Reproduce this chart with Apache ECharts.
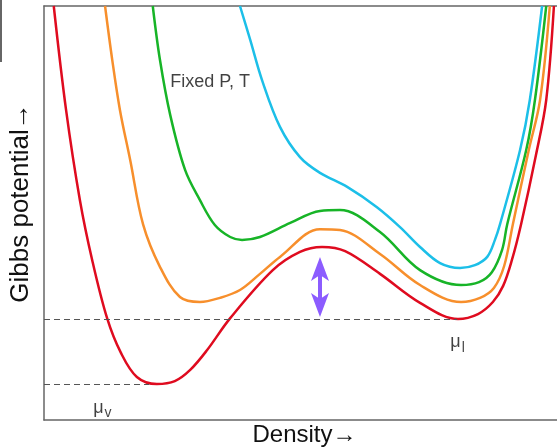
<html>
<head>
<meta charset="utf-8"/>
<title>Gibbs potential vs density</title>
<script src="https://cdn.jsdelivr.net/npm/echarts@6/dist/echarts.min.js"></script>
<style>
  html, body { margin: 0; padding: 0; background: #fff; }
  #main { width: 557px; height: 448px; }
</style>
</head>
<body>
<div id="main"></div>
<script type="text/javascript">
    // curves, [density, gibbs] in arbitrary units (0..100)
    var red = [[1.9,100],[4.3,74.9],[7.0,53.1],[9.4,38.6],[12.3,24.6],[15.0,16.2],[18.1,10.4],[22.0,8.7],
        [25.5,9.4],[28.5,12.1],[31.8,16.9],[36.3,24.6],[44.6,36.2],[49.9,40.6],[54.2,41.8],[58.7,40.8],
        [65.5,35.3],[73.3,28.3],[80.7,24.4],[84.6,25.6],[87.5,28.5],[89.5,32.4],[91.2,38.6],[93.0,47.3],
        [95.9,64.0],[97.9,77.3],[99.4,100]];
    var orange = [[11.9,100],[13.3,87.0],[14.8,74.9],[16.8,62.8],[19.3,47.3],[22.6,37.0],[26.5,29.7],
        [30.4,28.5],[34.3,29.5],[38.2,31.4],[42.1,35.3],[46.0,39.4],[53.8,46.1],[57.7,45.9],[65.5,40.1],
        [73.3,32.6],[81.3,28.5],[85.0,29.5],[87.7,31.9],[89.7,37.2],[91.4,47.3],[94.5,65.2],[96.7,77.3],
        [98.6,100]];
    var green = [[21.2,100],[22.6,87.0],[24.6,73.7],[27.5,60.4],[30.4,53.1],[33.3,47.1],[36.3,44.2],
        [38.6,43.5],[42.1,44.2],[48.0,47.6],[53.8,50.5],[57.7,50.7],[65.5,45.4],[73.3,36.2],[81.3,32.6],
        [84.8,33.3],[87.3,35.7],[89.3,41.1],[90.3,47.3],[94.0,65.2],[95.7,77.3],[97.9,100]];
    var cyan = [[38.2,100],[40.2,91.8],[42.5,82.1],[46.0,70.8],[49.9,63.5],[53.8,59.7],[59.1,56.3],
        [64.9,51.4],[69.4,46.6],[73.3,41.8],[77.2,37.9],[81.1,36.7],[84.0,37.4],[86.4,39.4],[87.9,43.5],
        [88.9,47.3],[92.8,65.2],[94.7,77.3],[97.1,100]];

    // levels of the two minima of the red curve
    var muL = 24.4, muLEnd = 80.5;
    var muV = 8.7, muVEnd = 20.5;
    // barrier arrow: [x, top tip, bottom tip]
    var barrier = [[53.8, 39.4, 24.9]];
    // text labels
    var notes = [
        {value: [24.6, 81.6], label: 'Fixed P, T'},
        {value: [9.6, 3.0], label: '{m|μ}{s|v}'},
        {value: [79.2, 18.8], label: '{m|μ}{s|l}'}
    ];

    var font = '"Liberation Sans", Arial, Helvetica, sans-serif';
    var axisLine = {show: true, lineStyle: {color: '#666', width: 1.5}};

    function curve(data, color) {
        return {
            type: 'line',
            data: data,
            smooth: 0.35,
            symbol: 'none',
            silent: true,
            clip: true,
            lineStyle: {color: color, width: 2.5}
        };
    }

    var myChart = echarts.init(document.getElementById('main'));

    var dashed = {color: '#555', width: 1, type: [6, 4]};

    var series = [
        curve(cyan, '#1cbfe8'),
        curve(green, '#17b427'),
        curve(orange, '#f78f2c'),
        curve(red, '#df0b1f')
    ];
    series[3].markLine = {
        silent: true,
        symbol: ['none', 'none'],
        label: {show: false},
        lineStyle: dashed,
        data: [
            [{coord: [0, muL]}, {coord: [muLEnd, muL]}],
            [{coord: [0, muV]}, {coord: [muVEnd, muV]}]
        ]
    };

    // double headed arrow between the red barrier top and the liquid level
    series.push({
        type: 'custom',
        silent: true,
        data: barrier,
        encode: {x: 0, y: [1, 2]},
        renderItem: function (params, api) {
            var x = api.value(0);
            var t = api.coord([x, api.value(1)]);
            var b = api.coord([x, api.value(2)]);
            var cx = t[0], hw = 9, hh = 24, nk = 18;
            var style = {fill: '#8c5cff'};
            return {
                type: 'group',
                children: [
                    {type: 'polygon', shape: {points: [[cx, t[1]], [cx + hw, t[1] + hh], [cx, t[1] + nk], [cx - hw, t[1] + hh]]}, style: style},
                    {type: 'polygon', shape: {points: [[cx, b[1]], [cx + hw, b[1] - hh], [cx, b[1] - nk], [cx - hw, b[1] - hh]]}, style: style},
                    {type: 'rect', shape: {x: cx - 2, y: t[1] + nk - 2, width: 4, height: b[1] - t[1] - 2 * nk + 4}, style: style}
                ]
            };
        }
    });

    series.push({
        type: 'scatter',
        symbolSize: 0,
        silent: true,
        data: notes.map(function (n) {
            return {
                value: n.value,
                label: {
                    show: true,
                    position: 'right',
                    distance: 0,
                    formatter: n.label,
                    color: '#111',
                    fontFamily: font,
                    fontSize: 18,
                    rich: {
                        m: {fontSize: 18, fontFamily: font, color: '#111'},
                        s: {fontSize: 14, fontFamily: font, color: '#111', padding: [12, 0, 0, 1]}
                    }
                }
            };
        })
    });

    var option = {
        animation: false,
        grid: {left: 44, right: 0, top: 6, bottom: 28, outerBoundsMode: 'none'},
        xAxis: [{
            type: 'value', min: 0, max: 100,
            name: 'Density→', nameLocation: 'middle', nameGap: 3,
            nameTextStyle: {fontSize: 24, color: '#111', fontFamily: font, padding: [0, 0, 0, 8], verticalAlign: 'top'},
            axisLine: axisLine, axisTick: {show: false}, axisLabel: {show: false}, splitLine: {show: false}
        }, {
            type: 'value', min: 0, max: 100, position: 'top',
            axisLine: axisLine, axisTick: {show: false}, axisLabel: {show: false}, splitLine: {show: false}
        }],
        yAxis: {
            type: 'value', min: 0, max: 100,
            name: 'Gibbs potential→', nameLocation: 'middle', nameGap: 10,
            nameTextStyle: {fontSize: 26, color: '#111', fontFamily: font, padding: [0, 0, 0, 20]},
            axisLine: axisLine, axisTick: {show: false}, axisLabel: {show: false}, splitLine: {show: false}
        },
        graphic: [{
            type: 'rect', left: 0, top: 0, silent: true,
            shape: {width: 2, height: 62},
            style: {fill: '#666'}
        }],
        series: series
    };

    myChart.setOption(option);
</script>
</body>
</html>
